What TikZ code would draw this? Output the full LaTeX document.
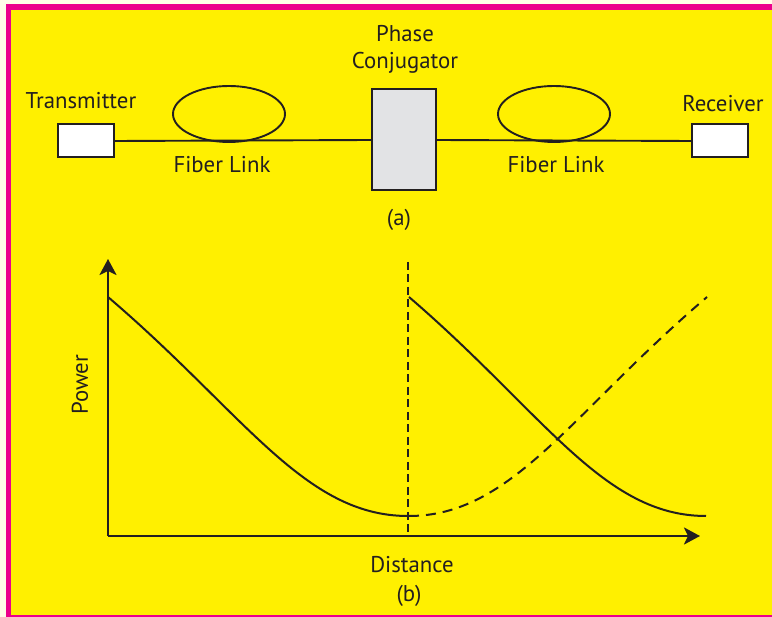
\documentclass[tikz,border=0pt]{standalone}
\usepackage{fontspec}
\setmainfont{PT Sans}
\usetikzlibrary{shapes.geometric,arrows.meta}
\definecolor{bgyellow}{HTML}{FFF000}
\definecolor{framepink}{HTML}{EC008C}
\definecolor{paper}{HTML}{FFFDE8}
\definecolor{boxgray}{HTML}{E2E3E5}
\definecolor{ink}{HTML}{231F20}
\tikzset{
  lbl/.style={font=\fontsize{22.8}{26}\selectfont, text=ink, inner sep=0pt},
  smallbox/.style={draw=ink, line width=2pt, fill=white, minimum width=56pt, minimum height=33pt, inner sep=0pt},
  conjbox/.style={draw=ink, line width=2pt, fill=boxgray, minimum width=64pt, minimum height=101pt, inner sep=0pt},
  coil/.style={draw=ink, line width=1.9pt, ellipse, minimum width=112pt, minimum height=56pt, inner sep=0pt},
  fiber/.style={draw=ink, line width=1.9pt},
  axis/.style={draw=ink, line width=2.5pt, -{Stealth[length=16pt,width=17pt,inset=4pt]}},
  curve/.style={draw=ink, line width=2pt},
  dcurve/.style={draw=ink, line width=2pt, dash pattern=on 10pt off 7pt},
  vdash/.style={draw=ink, line width=2pt, dash pattern=on 8pt off 4.5pt}
}
\begin{document}
\begin{tikzpicture}[x=1pt,y=-1pt]
\useasboundingbox (0,0) rectangle (772,617);
\fill[paper] (0,0) rectangle (772,617);
\fill[framepink] (6,4) rectangle (772,617);
\fill[bgyellow] (11,10) rectangle (772,615);

% (a) link
\node[smallbox] (tx) at (86,141) {};
\node[smallbox] (rx) at (720,141) {};
\node[conjbox] (conj) at (404,140) {};
\node[coil] (fib1) at (229,114) {};
\node[coil] (fib2) at (554,114) {};
\draw[fiber] (tx.east) -- (conj.west);
\draw[fiber] (conj.east) -- (rx.west);

\node[lbl] (txl) at (81,101) {Transmitter};
\node[lbl] (rxl) at (723,104) {Receiver};
\node[lbl] (ph1) at (405,34) {Phase};
\node[lbl] (ph2) at (405,63) {Conjugator};
\node[lbl] (fl1) at (222,165) {Fiber Link};
\node[lbl] (fl2) at (556,165) {Fiber Link};
\node[lbl] (la) at (399,220) {(a)};

% (b) plot
\coordinate (O) at (108,536);
\coordinate (ytop) at (108,259);
\coordinate (xend) at (700,536);
\draw[axis] (O) -- (ytop);
\draw[axis] (O) -- (xend);
\coordinate (vtop) at (408,262);
\coordinate (vbot) at (408,536);
\draw[vdash] (vtop) -- (vbot);

\coordinate (c1s) at (108,297);
\coordinate (c1e) at (408,516);
\draw[curve] (c1s) .. controls (244,413) and (304,516) .. (c1e);
\coordinate (c2s) at (409,297);
\coordinate (c2e) at (706,516);
\draw[curve] (c2s) .. controls (544,413) and (603,516) .. (c2e);
\coordinate (d1s) at (409,516);
\coordinate (d1e) at (707,297);
\draw[dcurve] (d1s) .. controls (512,516) and (571,413) .. (d1e);

\node[lbl, rotate=90] (pw) at (80,385) {Power};
\node[lbl] (dist) at (412,565) {Distance};
\node[lbl] (lb) at (409,596) {(b)};
\end{tikzpicture}
\end{document}
